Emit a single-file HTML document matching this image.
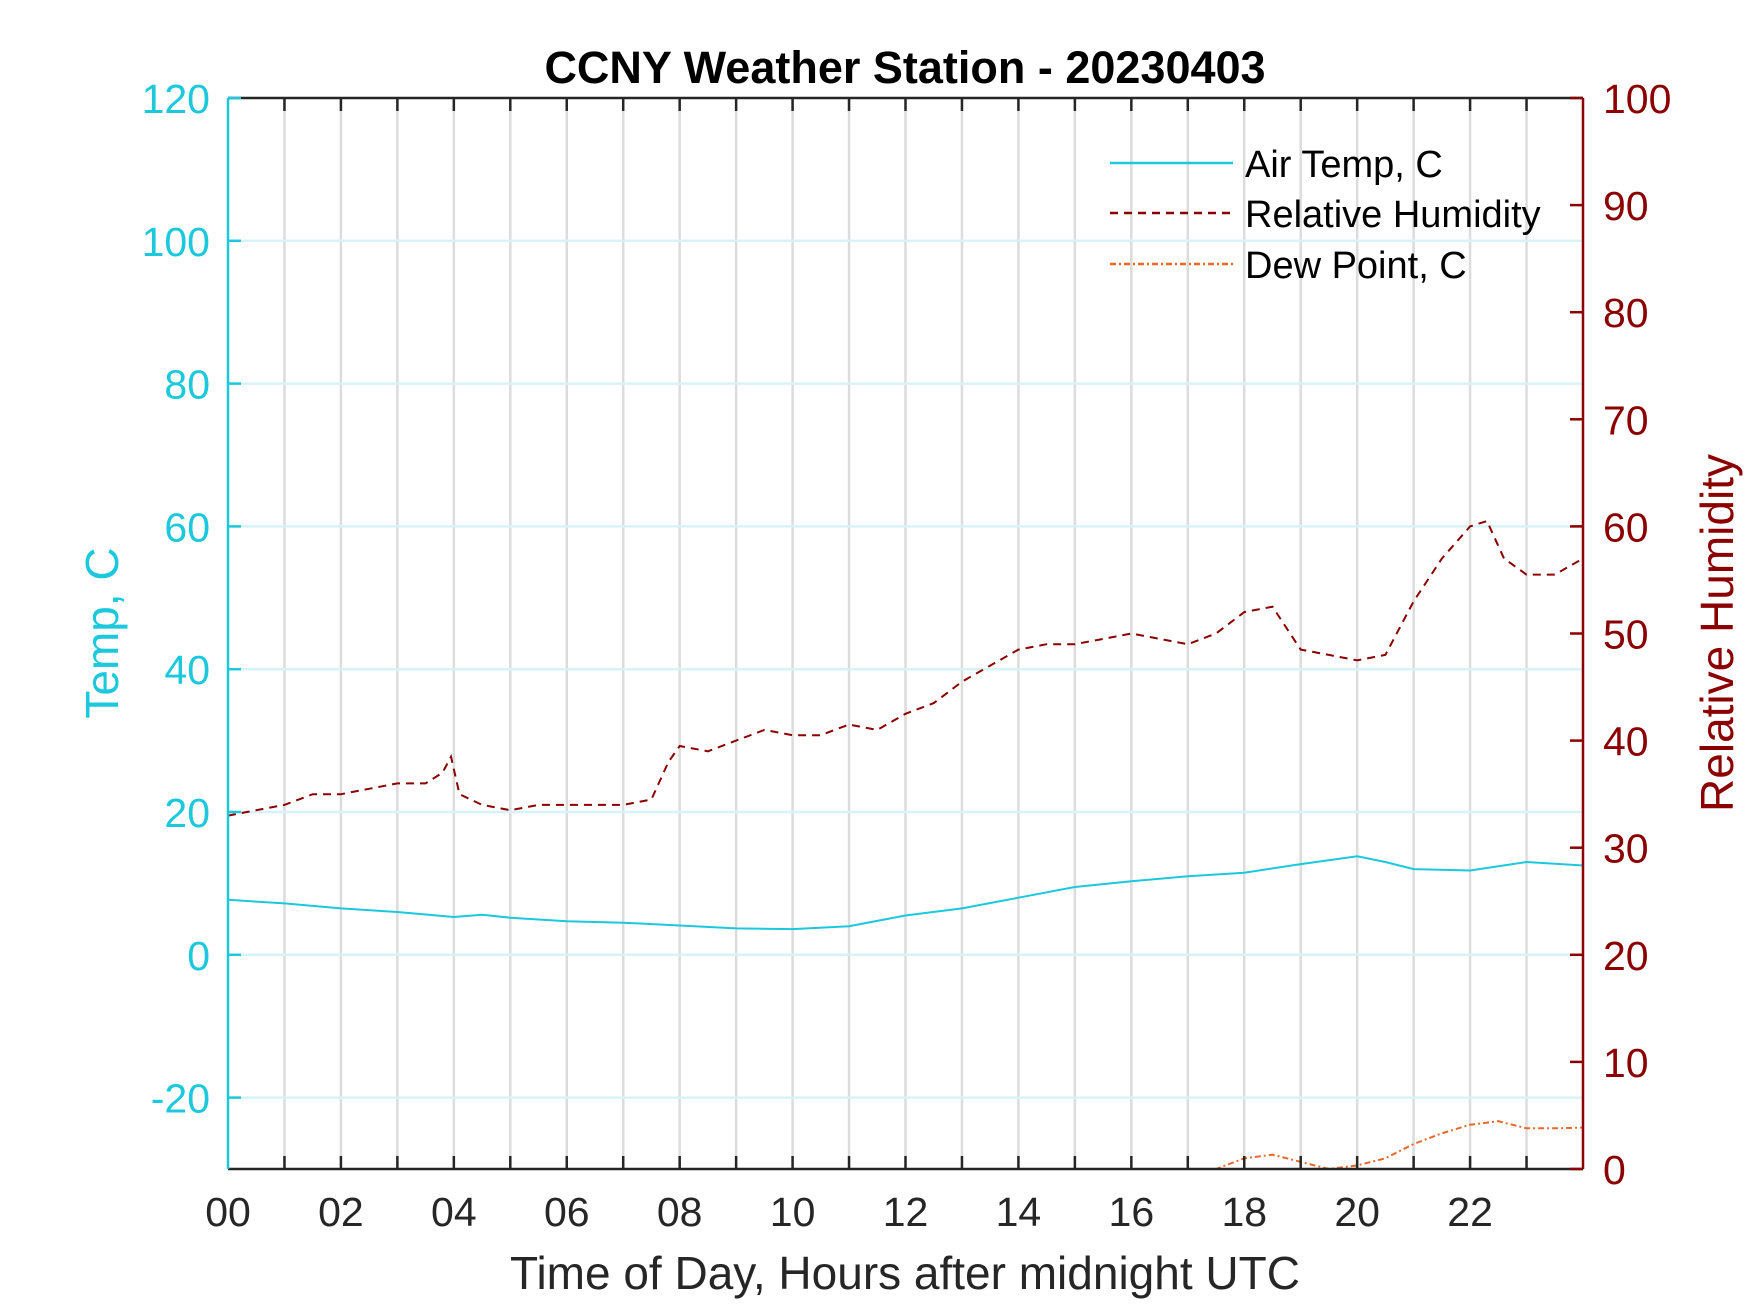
<!DOCTYPE html>
<html><head><meta charset="utf-8"><style>
html,body{margin:0;padding:0;background:#fff;}
svg{display:block;font-family:"Liberation Sans",Arial,sans-serif;}
</style></head><body>
<svg id="chart" width="1750" height="1313" viewBox="0 0 1750 1313" xmlns="http://www.w3.org/2000/svg">
<rect width="1750" height="1313" fill="#fff"/>
<g id="grid"></g>
<g id="series"></g>
<g id="axes"></g>
<text x="905" y="83" text-anchor="middle" font-size="45" font-weight="bold" fill="#000">CCNY Weather Station - 20230403</text>
<text x="905" y="1289" text-anchor="middle" font-size="46" fill="#262626">Time of Day, Hours after midnight UTC</text>
<text transform="translate(118,633) rotate(-90)" text-anchor="middle" font-size="46" fill="#1bc8dc">Temp, C</text>
<text transform="translate(1733,633) rotate(-90)" text-anchor="middle" font-size="46" fill="#8b0000">Relative Humidity</text>
<g>
<line x1="1110" y1="163" x2="1233" y2="163" stroke="#1bc8dc" stroke-width="2.5"/>
<text x="1245" y="177" font-size="38" fill="#000">Air Temp, C</text>
<line x1="1110" y1="213" x2="1233" y2="213" stroke="#8b0000" stroke-width="2.5" stroke-dasharray="8,6"/>
<text x="1245" y="227" font-size="38" fill="#000">Relative Humidity</text>
<line x1="1110" y1="264" x2="1233" y2="264" stroke="#e8682a" stroke-width="2.5" stroke-dasharray="6,3,2,3"/>
<text x="1245" y="278" font-size="38" fill="#000">Dew Point, C</text>
</g>
</svg>
<script>
const tempHours=[0,1,2,3,4,4.5,5,6,7,8,9,10,11,12,13,14,15,16,17,18,19,20,20.5,21,22,23,24];
const tempVals=[7.7,7.2,6.5,6,5.3,5.6,5.2,4.7,4.5,4.1,3.7,3.6,4,5.5,6.5,8,9.5,10.3,11,11.5,12.7,13.8,13,12,11.8,13,12.5];
const rhHours=[0,0.5,1,1.5,2,2.5,3,3.5,3.8,3.95,4.1,4.5,5,5.5,6,6.5,7,7.5,7.8,8,8.5,9,9.5,10,10.5,11,11.5,12,12.5,13,13.5,14,14.5,15,15.5,16,16.5,17,17.5,18,18.5,19,19.5,20,20.5,21,21.5,22,22.3,22.6,23,23.5,24];
const rhVals=[33,33.5,34,35,35,35.5,36,36,37,38.5,35,34,33.5,34,34,34,34,34.5,38,39.5,39,40,41,40.5,40.5,41.5,41,42.5,43.5,45.5,47,48.5,49,49,49.5,50,49.5,49,50,52,52.5,48.5,48,47.5,48,53,57,60,60.5,57,55.5,55.5,57];
const dewHours=[17,17.5,18,18.5,19,19.5,20,20.5,21,21.5,22,22.5,23,23.5,24];
const dewVals=[-31,-30,-28.5,-28,-29,-30,-29.5,-28.5,-26.5,-25,-23.8,-23.3,-24.3,-24.3,-24.2];
const tempTicks=[-20,0,20,40,60,80,100,120];
const rhTicks=[0,10,20,30,40,50,60,70,80,90,100];
const xTickLabels=["00","02","04","06","08","10","12","14","16","18","20","22"];

const L=228,R=1583,T=98,B=1169;
const xs=h=>L+(h/24)*(R-L);
const yT=v=>B-(v+30)/150*(B-T);
const yR=v=>B-v/100*(B-T);
const NS="http://www.w3.org/2000/svg";
function mk(tag,attrs,parent){const e=document.createElementNS(NS,tag);for(const k in attrs)e.setAttribute(k,attrs[k]);parent.appendChild(e);return e;}
const grid=document.getElementById('grid'),axes=document.getElementById('axes'),series=document.getElementById('series');
const defs=mk('defs',{},document.getElementById('chart'));
const cp=mk('clipPath',{id:'plotclip'},defs);mk('rect',{x:L,y:T,width:R-L,height:B-T},cp);
series.setAttribute('clip-path','url(#plotclip)');
for(let h=1;h<24;h++){
  const g=mk('line',{x1:xs(h),y1:T,x2:xs(h),y2:B,stroke:'#dcdcdc','stroke-width':2.5},grid);
  
  
}
tempTicks.forEach(v=>{
  if(v===120)return;
  const g=mk('line',{x1:L,y1:yT(v),x2:R,y2:yT(v),stroke:'#d8f3f7','stroke-width':2.5},grid);
  
  
});
function path(hs,vs,yf,attrs,name){
  let d='';hs.forEach((h,i)=>{d+=(i?'L':'M')+xs(h).toFixed(1)+','+yf(vs[i]).toFixed(1);});
  const p=mk('path',Object.assign({d:d,fill:'none'},attrs),series);
  
  
}
path(tempHours,tempVals,yT,{stroke:'#1bc8dc','stroke-width':2},'air-temp-line');
path(rhHours,rhVals,yR,{stroke:'#8b0000','stroke-width':2,'stroke-dasharray':'8,6'},'humidity-line');
path(dewHours,dewVals,yT,{stroke:'#e8682a','stroke-width':2,'stroke-dasharray':'6,3,2,3'},'dew-point-line');
mk('line',{x1:L,y1:T,x2:R,y2:T,stroke:'#262626','stroke-width':2.5},axes);
mk('line',{x1:L,y1:B,x2:R,y2:B,stroke:'#262626','stroke-width':2.5},axes);
mk('line',{x1:L,y1:T,x2:L,y2:B,stroke:'#1bc8dc','stroke-width':2.5},axes);
mk('line',{x1:R,y1:T,x2:R,y2:B,stroke:'#8b0000','stroke-width':2.5},axes);
for(let h=1;h<24;h++){
  mk('line',{x1:xs(h),y1:T,x2:xs(h),y2:T+13,stroke:'#262626','stroke-width':2.5},axes);
  mk('line',{x1:xs(h),y1:B,x2:xs(h),y2:B-13,stroke:'#262626','stroke-width':2.5},axes);
}
xTickLabels.forEach((s,i)=>{
  const t=mk('text',{x:xs(i*2),y:B+57,'text-anchor':'middle','font-size':41,fill:'#262626'},axes);
  t.textContent=s;
  
  
});
tempTicks.forEach(v=>{
  mk('line',{x1:L,y1:yT(v),x2:L+13,y2:yT(v),stroke:'#1bc8dc','stroke-width':2.5},axes);
  const t=mk('text',{x:L-18,y:yT(v)+15,'text-anchor':'end','font-size':41,fill:'#1bc8dc'},axes);
  t.textContent=v;
  
  
});
rhTicks.forEach(v=>{
  mk('line',{x1:R,y1:yR(v),x2:R-13,y2:yR(v),stroke:'#8b0000','stroke-width':2.5},axes);
  const t=mk('text',{x:R+20,y:yR(v)+15,'text-anchor':'start','font-size':41,fill:'#8b0000'},axes);
  t.textContent=v;
  
  
});
</script>
</body></html>
